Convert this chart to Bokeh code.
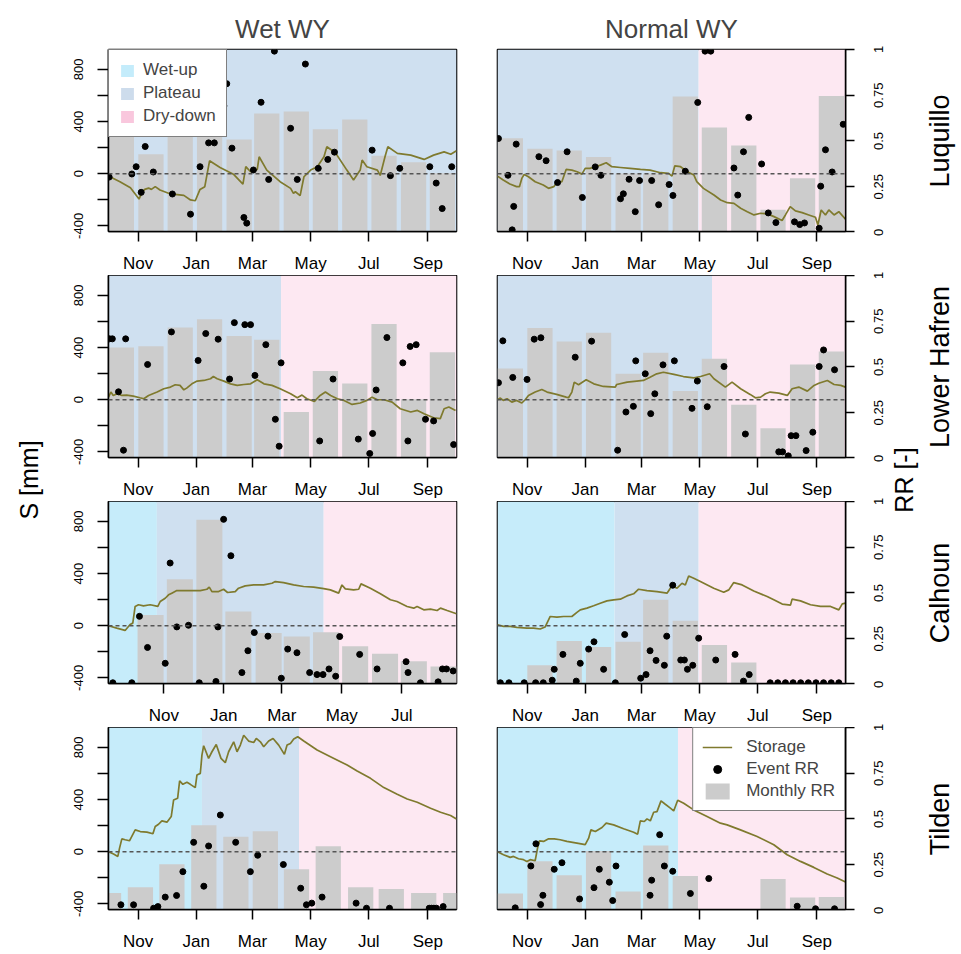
import math
from bokeh.plotting import figure
from bokeh.models import (Range1d, LinearAxis, FixedTicker, Span,
                          Legend, LegendItem, Title)
from bokeh.layouts import row, column
from bokeh.embed import file_html
from bokeh.resources import INLINE
from bokeh.core.properties import value

# ------------------------------------------------------------------ data
MONTH_TICKS = [31, 92, 151, 212, 273, 335]          # day of water year (Oct 1 = 0)
MONTH_LABELS = ["Nov", "Jan", "Mar", "May", "Jul", "Sep"]
S_TICKS = [-400, -200, 0, 200, 400, 600, 800]
S_LABELS = ["-400", "", "0", "", "400", "", "800"]
RR_TICKS = [0, 0.25, 0.5, 0.75, 1]
RR_LABELS = ["0", "0.25", "0.5", "0.75", "1"]
S_LIMITS = (-443, 953)
RR_LIMITS = (0, 1)
WY_LIMITS = (0, 365)
CAL_WET_LIMITS = (-25.3, 328.7)

STD_BAR_X = [13.5, 44.5, 75.2, 106, 137, 166, 197, 227.5, 258.3, 289, 320, 350.2]

# Luquillo - wet WY
LUQ_WET_S_DAY = [0, 12, 23, 32, 35, 38, 42, 45, 49, 54, 65, 79, 86, 91, 96, 101, 106, 117, 131, 141,
                 144, 149, 156, 158, 166, 180, 191, 194, 196, 201, 205, 212, 219, 226, 229, 238, 250, 257, 264, 266,
                 271, 282, 285, 290, 293, 303, 317, 331, 341, 352, 359, 365]
LUQ_WET_S_MM = [-18, -61, -107, -194, -145, -120, -110, -120, -99, -125, -155, -166, -201, -207, -120, -99, 99, 48, -3, -79,
                54, 15, 33, 130, 28, -61, -112, -150, -138, -168, -23, 28, 54, 130, 207, 161, 28, -48, 28, 105,
                54, 28, -13, 130, 207, 156, 143, 110, 143, 168, 150, 176]
LUQ_WET_EV_DAY = [0.7, 24.5, 29, 34.3, 38.5, 47, 67, 86, 96, 105, 111, 121, 124, 129.5, 142, 145, 152, 160, 168, 174,
                  191, 198, 206.5, 220, 230, 237, 276.5, 295.7, 305.5, 337, 343.7, 350, 360]
LUQ_WET_EV_RR = [0.299, 0.316, 0.356, 0.215, 0.467, 0.327, 0.206, 0.095, 0.356, 0.487, 0.487, 0.69, 0.812, 0.458, 0.077,
                 0.046, 0.338, 0.71, 0.286, 0.991, 0.567, 0.286, 0.92, 0.347, 0.396, 0.436, 0.447, 0.307, 0.347, 0.356,
                 0.266, 0.126, 0.356]
LUQ_WET_BAR_RR = [0.56, 0.425, 0.53, 0.52, 0.505, 0.648, 0.66, 0.562, 0.615, 0.416, 0.38, 0.32]
LUQ_WET_PH_START = [0]
LUQ_WET_PH_END = [365]
LUQ_WET_PH_KIND = ["Plateau"]

# Luquillo - normal WY
LUQ_NOR_S_DAY = [0, 6, 13, 20, 23, 25.5, 28, 32.5, 39.5, 48, 53.5, 59, 62, 67.5, 72, 78, 83.5, 88.5, 92, 97,
                 102.5, 108, 114, 120, 129, 139, 150, 160, 171, 179.5, 183, 186, 192, 199, 206, 209, 216, 227, 234, 241,
                 248, 255, 262, 269, 276, 283, 290, 298.5, 302, 307, 312.5, 319.5, 326.5, 333.5, 336, 339.5, 344, 347.5,
                 353, 358, 365]
LUQ_NOR_S_MM = [-18, -48, -79, -99, -99, -36, -5, -23, -61, -87, -112, -99, -69, -61, 33, 28, 15, -3, 41, 41,
                54, 66, 84, 54, 48, 41, 33, 28, 8, 3, -18, 61, 54, 15, -10, -61, -112, -163, -201, -222,
                -227, -265, -291, -316, -303, -308, -329, -359, -316, -252, -285, -298, -316, -334, -393, -278, -316, -278,
                -316, -291, -349]
LUQ_NOR_EV_DAY = [1, 11, 15.4, 17, 19.6, 43.4, 51, 63, 73, 89, 102.5, 108.5, 129, 132, 138, 144.5, 149, 161.7, 169, 180,
                  184, 197, 210, 217.7, 223.7, 248, 252, 258, 263.5, 277, 284, 292, 311.5, 317, 322, 337.4, 339, 344,
                  351, 362.6]
LUQ_NOR_EV_RR = [0.511, 0.309, 0.009, 0.138, 0.48, 0.411, 0.389, 0.269, 0.438, 0.187, 0.355, 0.309, 0.18, 0.207, 0.287,
                 0.109, 0.28, 0.28, 0.147, 0.258, 0.198, 0.331, 0.709, 0.991, 0.991, 0.349, 0.2, 0.438, 0.627, 0.371,
                 0.102, 0.049, 0.053, 0.038, 0.047, 0.018, 0.249, 0.449, 0.327, 0.589]
LUQ_NOR_BAR_RR = [0.513, 0.455, 0.445, 0.409, 0.318, 0.318, 0.742, 0.571, 0.473, 0.12, 0.293, 0.745]
LUQ_NOR_PH_START = [0, 211]
LUQ_NOR_PH_END = [211, 365]
LUQ_NOR_PH_KIND = ["Plateau", "Dry-down"]

# Lower Hafren - wet WY
LH_WET_S_DAY = [0, 2.5, 5, 9, 14, 19, 26, 33, 37, 42, 51, 58, 65, 70, 75, 79, 82, 87.5, 93, 100,
                107, 110, 114, 121, 128, 135, 142, 149, 156, 163, 171.5, 180, 191, 198, 203, 208, 216, 222, 227.5, 233,
                240, 247, 255.5, 264, 271, 276.5, 282, 289, 297.5, 306, 317, 324, 331, 341, 348, 352, 357, 364]
LH_WET_S_MM = [20, 59, 33, 46, 33, 36, 28, 15, 8, 33, 59, 84, 97, 115, 110, 76, 89, 122, 143, 148,
               161, 178, 161, 143, 122, 110, 117, 122, 153, 122, 110, 84, 46, 15, 36, 8, -13, 33, 59, 33,
               8, -5, -36, -25, -5, 20, 0, 0, -18, -69, -94, -82, -107, -138, -145, -69, -56, -82]
LH_WET_EV_DAY = [1, 4, 10.5, 15.7, 18, 41, 66, 94, 102, 115, 127, 132, 143, 149, 153.6, 165, 175, 179, 181, 221.5,
                 235.5, 262, 274, 277, 280.7, 292, 308.7, 314, 316.4, 322.7, 332.5, 341, 362]
LH_WET_EV_RR = [0.652, 0.652, 0.361, 0.04, 0.652, 0.511, 0.69, 0.533, 0.681, 0.65, 0.431, 0.741, 0.73, 0.73, 0.451,
                0.62, 0.21, 0.062, 0.52, 0.091, 0.431, 0.101, 0.022, 0.132, 0.371, 0.659, 0.52, 0.091, 0.61, 0.62,
                0.21, 0.201, 0.071]
LH_WET_BAR_RR = [0.605, 0.611, 0.714, 0.759, 0.668, 0.647, 0.25, 0.475, 0.406, 0.734, 0.32, 0.578]
LH_WET_PH_START = [0, 181]
LH_WET_PH_END = [181, 365]
LH_WET_PH_KIND = ["Plateau", "Dry-down"]

# Lower Hafren - normal WY
LH_NOR_S_DAY = [0, 3, 6, 10, 15, 20, 25.5, 29, 32.5, 39.5, 46.5, 52, 62, 72, 74.5, 78, 80.5, 85, 93, 101,
                111, 123.5, 125, 136, 146, 153, 160, 167, 174, 185, 195, 206, 213, 222.5, 227, 239, 246, 255, 265, 270.5,
                276, 281, 286, 295, 304, 309, 316, 325, 332, 337, 346, 353, 360, 365]
LH_NOR_S_MM = [0, 13, -5, 8, -18, -5, -25, 0, 33, 59, 79, 59, 41, 20, 15, 59, 135, 115, 153, 122,
               102, 97, 117, 135, 143, 148, 173, 199, 211, 194, 178, 168, 178, 199, 161, 97, 135, 84, 41, 15,
               20, 46, 59, 51, 33, 84, 97, 66, 110, 127, 148, 117, 110, 97]
LH_NOR_EV_DAY = [1, 5.6, 16, 31, 38.5, 45.5, 81.5, 98.7, 126, 134.7, 142.5, 145, 155, 160.7, 165, 173.6, 185.5, 204,
                 209.6, 220, 237.6, 260, 295, 299, 305, 308, 313, 323.7, 330.7, 337.4, 342, 353.5]
LH_NOR_EV_RR = [0.411, 0.641, 0.44, 0.429, 0.65, 0.658, 0.551, 0.639, 0.04, 0.25, 0.281, 0.531, 0.46, 0.241, 0.35,
                0.509, 0.531, 0.27, 0.42, 0.279, 0.5, 0.129, 0.031, 0.031, 0.009, 0.12, 0.12, 0.038, 0.139, 0.5,
                0.591, 0.482]
LH_NOR_BAR_RR = [0.489, 0.712, 0.638, 0.685, 0.46, 0.576, 0.366, 0.543, 0.29, 0.161, 0.511, 0.582]
LH_NOR_PH_START = [0, 225]
LH_NOR_PH_END = [225, 365]
LH_NOR_PH_KIND = ["Plateau", "Dry-down"]

# Calhoun - wet WY
CAL_WET_S_DAY = [-25.3, -16.9, -8.4, -3.3, -0.6, 1.8, 5.2, 10.3, 17.1, 24.9, 27.3, 32.4, 35.8, 39.1, 44.2, 51, 57.8,
                 68, 74.8, 77.2, 79.9, 86.7, 91.8, 95.8, 103.6, 107, 113.8, 122.3, 132.5, 141, 144.4, 152.8, 163,
                 173.2, 183.4, 193.6, 200.4, 208.8, 212.2, 215.6, 224.1, 229.2, 231.6, 241.1, 251.3, 261.5, 268.2,
                 278.4, 285.2, 288.6, 295.4, 302.2, 309, 312.4, 319.2, 328.7]
CAL_WET_S_MM = [0, -18, -36, 10, 20, 148, 161, 153, 161, 148, 186, 211, 237, 250, 270, 270, 270, 270, 280, 296,
                262, 262, 280, 255, 262, 288, 306, 313, 313, 326, 339, 331, 313, 301, 296, 285, 275, 250, 313, 283,
                275, 280, 321, 288, 245, 199, 186, 148, 135, 148, 122, 127, 117, 135, 117, 92]
CAL_WET_EV_DAY = [-20.9, -1.6, 6.2, 14.4, 32.4, 37.4, 44.2, 56.1, 67, 84, 86, 91.8, 99.2, 110.4, 116.5, 123, 136.9,
                  150.5, 157, 166.4, 179.3, 186.8, 192.9, 199, 205.8, 209.9, 230.2, 247.9, 277.4, 279.4, 292, 310,
                  314.4, 318.5, 325.3]
CAL_WET_EV_RR = [0.004, 0.004, 0.369, 0.198, 0.111, 0.662, 0.311, 0.32, 0.004, 0.011, 0.311, 0.902, 0.702, 0.06,
                 0.18, 0.28, 0.26, 0.029, 0.189, 0.169, 0.06, 0.049, 0.049, 0.08, 0.04, 0.258, 0.16, 0.08, 0.12,
                 0.06, 0.004, 0.009, 0.08, 0.08, 0.069]
CAL_WET_BAR_X = [17.5, 47.3, 77.3, 106.8, 137.6, 166.2, 196, 225.6, 256, 285.3, 315.5]
CAL_WET_BAR_RR = [0.376, 0.573, 0.9, 0.396, 0.278, 0.258, 0.282, 0.205, 0.164, 0.122, 0.093]
CAL_WET_PH_START = [-25.3, 23.9, 193.6]
CAL_WET_PH_END = [23.9, 193.6, 328.7]
CAL_WET_PH_KIND = ["Wet-up", "Plateau", "Dry-down"]

# Calhoun - normal WY
CAL_NOR_S_DAY = [0, 6.3, 13.3, 20.3, 30.8, 37.8, 44.8, 49.9, 55.3, 62.3, 69.3, 78, 83.3, 86.8, 93.8, 100.8, 107.8,
                 114.8, 121.8, 128.8, 135.8, 142.8, 148, 156.8, 167.3, 177.8, 183, 188.3, 193.5, 197, 200.5, 205.8,
                 212.8, 226.8, 237.3, 242.6, 247.8, 256.6, 268.8, 282.8, 289.8, 298.6, 307.3, 309, 317.8, 328.3,
                 338.8, 349.3, 358, 361.6, 365]
CAL_NOR_S_MM = [8, -5, -5, -13, -18, -18, -25, -10, 71, 66, 71, 71, 102, 122, 135, 153, 173, 191, 199, 204,
                229, 245, 280, 270, 262, 250, 306, 288, 326, 313, 382, 364, 339, 288, 257, 275, 331, 313, 267, 224,
                199, 166, 158, 204, 191, 161, 148, 148, 122, 168, 173]
CAL_NOR_EV_DAY = [3, 12, 28, 40, 48, 57.4, 59.5, 68.6, 82.6, 86.8, 95.6, 101.2, 111.3, 123.6, 133.4, 150.2, 155.8,
                  160, 166.3, 175, 177.5, 183.8, 192.2, 196, 199.2, 204.8, 211, 228.9, 249.2, 258, 264, 286, 294,
                  302, 310, 318, 326, 334, 342, 350, 358]
CAL_NOR_EV_RR = [0.004, 0.004, 0.004, 0.004, 0.004, 0.018, 0.078, 0.16, 0.013, 0.111, 0.189, 0.229, 0.078, 0.004,
                 0.269, 0.029, 0.049, 0.18, 0.127, 0.1, 0.26, 0.54, 0.129, 0.129, 0.078, 0.1, 0.249, 0.129, 0.16,
                 0.013, 0.049, 0.004, 0.004, 0.004, 0.004, 0.004, 0.004, 0.004, 0.004, 0.004, 0.004]
CAL_NOR_BAR_RR = [0, 0.1, 0.233, 0.2, 0.229, 0.46, 0.345, 0.211, 0.116, 0, 0, 0]
CAL_NOR_PH_START = [0, 122.8, 211]
CAL_NOR_PH_END = [122.8, 211, 365]
CAL_NOR_PH_KIND = ["Wet-up", "Plateau", "Dry-down"]

# Tilden - wet WY
TIL_WET_S_DAY = [0, 5.3, 9.8, 11.6, 14, 17.5, 22, 28, 33.3, 40.3, 46.6, 49, 52.5, 56, 61.3, 65.8, 68.3, 72.5, 74.6, 78,
                 82.3, 85.8, 91, 92.8, 96.3, 98, 99.8, 105, 108.5, 113, 118, 122.5, 126, 131.3, 134.8, 138.3, 141.8,
                 147, 152.3, 155, 159.3, 162.8, 168, 172.6, 178.5, 184.5, 187.3, 190.8, 194.3, 198.5, 204.8, 218.8,
                 232.8, 250.3, 260.8, 274.8, 288.8, 302.8, 313.3, 323.8, 337.8, 348.3, 358.8, 365]
TIL_WET_S_MM = [0, -18, -36, 28, 99, 92, 84, 168, 155, 150, 138, 194, 211, 237, 227, 270, 397, 410, 543, 517,
                533, 517, 492, 589, 601, 741, 813, 716, 767, 823, 716, 683, 767, 843, 767, 818, 894, 849, 838, 869,
                843, 805, 849, 869, 818, 747, 818, 831, 864, 882, 849, 780, 729, 665, 619, 563, 492, 441, 405, 380,
                334, 303, 278, 252]
TIL_WET_EV_DAY = [13, 26.3, 47.3, 51.8, 59.5, 71.4, 78, 89.3, 100, 105, 117.3, 133.4, 148.8, 156.5, 183.4, 201.6,
                  207.6, 213.2, 224, 259.7, 270.6, 294.7, 336.4, 338.8, 341.3, 344, 351]
TIL_WET_EV_RR = [0.026, 0.026, 0.007, 0.016, 0.068, 0.077, 0.208, 0.369, 0.128, 0.349, 0.519, 0.369, 0.208, 0.298,
                 0.247, 0.117, 0.026, 0.035, 0.068, 0.035, 0.007, 0.007, 0.007, 0.007, 0.007, 0.007, 0.016]
TIL_WET_BAR_X = [0, 33.5, 66.5, 100, 133.6, 164.5, 197.2, 230.5, 264.5, 296.6, 330.6, 364.2]
TIL_WET_BAR_RR = [0.09, 0.122, 0.249, 0.463, 0.4, 0.43, 0.221, 0.347, 0.122, 0.113, 0.09, 0.09]
TIL_WET_PH_START = [0, 98, 199.8]
TIL_WET_PH_END = [98, 199.8, 365]
TIL_WET_PH_KIND = ["Wet-up", "Plateau", "Dry-down"]

# Tilden - normal WY
TIL_NOR_S_DAY = [0, 6.3, 13.3, 16.8, 22, 27.3, 30.8, 34.3, 39.5, 42, 44.1, 48.3, 53.6, 59.5, 65.8, 72.8, 83.3, 92,
                 95.6, 98, 102.6, 109.6, 114, 121.8, 132.3, 142.8, 147, 149.8, 154, 156.8, 160.3, 163.8, 167.3, 171.5,
                 176, 181.3, 184.8, 189, 195.3, 205.8, 219.8, 233.8, 240.8, 254.8, 272.3, 289.8, 303.8, 317.8, 331.8,
                 345.8, 356.3, 365]
TIL_NOR_S_MM = [0, -23, -43, -36, -54, -61, -74, -61, -69, 28, 84, 79, 99, 99, 92, 79, 66, 54, 104, 168,
                155, 186, 219, 206, 176, 150, 135, 237, 232, 252, 237, 303, 308, 390, 364, 334, 313, 395, 372, 321,
                270, 219, 206, 168, 117, 54, -23, -74, -120, -171, -201, -232]
TIL_NOR_EV_DAY = [18.6, 35, 40.3, 45.2, 47.6, 59.5, 67.6, 86.1, 101.2, 106.8, 117.3, 120.8, 124.3, 160, 161.7, 170.1,
                  175, 183.8, 202.3, 221.6, 314.3, 333.6, 353.5]
TIL_NOR_EV_RR = [0.009, 0.239, 0.361, 0.027, 0.078, 0.221, 0.257, 0.058, 0.12, 0.221, 0.15, 0.049, 0.239, 0.078,
                 0.161, 0.411, 0.239, 0.21, 0.088, 0.17, 0.018, 0.004, 0.004]
TIL_NOR_BAR_RR = [0.088, 0.265, 0.188, 0.321, 0.099, 0.352, 0.184, 0, 0, 0.168, 0.066, 0.069]
TIL_NOR_PH_START = [0, 189.3]
TIL_NOR_PH_END = [189.3, 365]
TIL_NOR_PH_KIND = ["Wet-up", "Dry-down"]

SITES = ["Luquillo", "Lower Hafren", "Calhoun", "Tilden"]
YEAR_TYPES = ["Wet WY", "Normal WY"]

# ------------------------------------------------------------------ style
FONT = "Liberation Sans"
PHASE_KINDS = ["Wet-up", "Plateau", "Dry-down"]
PHASE_BG = {"Wet-up": "#c6ecfa", "Plateau": "#cfe0f0", "Dry-down": "#fde8f2"}
PHASE_SWATCH = {"Wet-up": "#c4ecfb", "Plateau": "#cddcec", "Dry-down": "#f9c7dd"}
OLIVE = "#7f7a2e"
BAR_GREY = "#cccccc"
BAR_WIDTH = 26.5

FRAME_W, FRAME_H = 348, 183
TOP_B, GAP_B, LAST_B = 49, 43, 43
L_BL, L_BR = 50, 20
R_BL, R_BR = 21, 12
LEFT_STRIP_W, RIGHT_STRIP_W = 58, 102
TOTAL_H = TOP_B + 4 * FRAME_H + 3 * GAP_B + LAST_B

PANELS = [
    [dict(xr=WY_LIMITS, s_day=LUQ_WET_S_DAY, s_mm=LUQ_WET_S_MM, ev_day=LUQ_WET_EV_DAY, ev_rr=LUQ_WET_EV_RR,
          bar_x=STD_BAR_X, bar_rr=LUQ_WET_BAR_RR, ph=(LUQ_WET_PH_START, LUQ_WET_PH_END, LUQ_WET_PH_KIND)),
     dict(xr=WY_LIMITS, s_day=LUQ_NOR_S_DAY, s_mm=LUQ_NOR_S_MM, ev_day=LUQ_NOR_EV_DAY, ev_rr=LUQ_NOR_EV_RR,
          bar_x=STD_BAR_X, bar_rr=LUQ_NOR_BAR_RR, ph=(LUQ_NOR_PH_START, LUQ_NOR_PH_END, LUQ_NOR_PH_KIND))],
    [dict(xr=WY_LIMITS, s_day=LH_WET_S_DAY, s_mm=LH_WET_S_MM, ev_day=LH_WET_EV_DAY, ev_rr=LH_WET_EV_RR,
          bar_x=STD_BAR_X, bar_rr=LH_WET_BAR_RR, ph=(LH_WET_PH_START, LH_WET_PH_END, LH_WET_PH_KIND)),
     dict(xr=WY_LIMITS, s_day=LH_NOR_S_DAY, s_mm=LH_NOR_S_MM, ev_day=LH_NOR_EV_DAY, ev_rr=LH_NOR_EV_RR,
          bar_x=STD_BAR_X, bar_rr=LH_NOR_BAR_RR, ph=(LH_NOR_PH_START, LH_NOR_PH_END, LH_NOR_PH_KIND))],
    [dict(xr=CAL_WET_LIMITS, s_day=CAL_WET_S_DAY, s_mm=CAL_WET_S_MM, ev_day=CAL_WET_EV_DAY, ev_rr=CAL_WET_EV_RR,
          bar_x=CAL_WET_BAR_X, bar_rr=CAL_WET_BAR_RR, ph=(CAL_WET_PH_START, CAL_WET_PH_END, CAL_WET_PH_KIND)),
     dict(xr=WY_LIMITS, s_day=CAL_NOR_S_DAY, s_mm=CAL_NOR_S_MM, ev_day=CAL_NOR_EV_DAY, ev_rr=CAL_NOR_EV_RR,
          bar_x=STD_BAR_X, bar_rr=CAL_NOR_BAR_RR, ph=(CAL_NOR_PH_START, CAL_NOR_PH_END, CAL_NOR_PH_KIND))],
    [dict(xr=WY_LIMITS, s_day=TIL_WET_S_DAY, s_mm=TIL_WET_S_MM, ev_day=TIL_WET_EV_DAY, ev_rr=TIL_WET_EV_RR,
          bar_x=TIL_WET_BAR_X, bar_rr=TIL_WET_BAR_RR, ph=(TIL_WET_PH_START, TIL_WET_PH_END, TIL_WET_PH_KIND)),
     dict(xr=WY_LIMITS, s_day=TIL_NOR_S_DAY, s_mm=TIL_NOR_S_MM, ev_day=TIL_NOR_EV_DAY, ev_rr=TIL_NOR_EV_RR,
          bar_x=STD_BAR_X, bar_rr=TIL_NOR_BAR_RR, ph=(TIL_NOR_PH_START, TIL_NOR_PH_END, TIL_NOR_PH_KIND))],
]


def phase_rows(kind, specs):
    left, right = [], []
    for spec in specs:
        for s, e, k in zip(*spec["ph"]):
            if k == kind:
                left.append(s)
                right.append(e)
    return left, right


def style_axis(ax, size):
    ax.axis_line_color = "black"
    ax.axis_line_width = 1.5
    ax.major_tick_line_color = "black"
    ax.major_tick_line_width = 1.5
    ax.major_tick_out = 10
    ax.major_tick_in = 0
    ax.minor_tick_out = 0
    ax.minor_tick_in = 0
    ax.major_label_text_font = FONT
    ax.major_label_text_font_size = size
    ax.major_label_text_color = "black"


def make_panel(spec, ci, ri):
    top = TOP_B if ri == 0 else 0
    bottom = LAST_B if ri == 3 else GAP_B
    bl, br = (L_BL, L_BR) if ci == 0 else (R_BL, R_BR)
    p = figure(width=bl + FRAME_W + br, height=top + FRAME_H + bottom,
               x_range=Range1d(*spec["xr"]), y_range=Range1d(*S_LIMITS),
               x_axis_location=None, y_axis_location=None,
               toolbar_location=None, output_backend="svg",
               min_border_left=bl, min_border_right=br,
               min_border_top=top, min_border_bottom=bottom)
    if ri == 0:
        p.title = Title(text=YEAR_TYPES[ci], align="center", text_font=FONT,
                        text_font_size="26px", text_font_style="normal", standoff=12)
    p.extra_y_ranges = {"rr": Range1d(*RR_LIMITS)}
    p.xgrid.visible = False
    p.ygrid.visible = False
    p.outline_line_color = "black"
    p.outline_line_width = 1.6
    p.background_fill_color = "white"
    p.border_fill_color = "white"

    # phase backgrounds (full height of the RR axis)
    for k in PHASE_KINDS:
        left, right = phase_rows(k, [spec])
        if left:
            p.quad(left=left, right=right, bottom=RR_LIMITS[0], top=RR_LIMITS[1], y_range_name="rr",
                   fill_color=PHASE_BG[k], line_color=None)

    bars = p.vbar(x=spec["bar_x"], width=BAR_WIDTH, top=spec["bar_rr"], bottom=0,
                  y_range_name="rr", fill_color=BAR_GREY, line_color=None)
    p.add_layout(Span(location=0, dimension="width", line_color="#555555",
                      line_dash="4 3", line_width=1.4))
    line = p.line(spec["s_day"], spec["s_mm"], line_color=OLIVE, line_width=1.7)
    pts = p.scatter(spec["ev_day"], spec["ev_rr"], y_range_name="rr", size=6,
                    fill_color="black", line_color="black")

    xa = LinearAxis(ticker=FixedTicker(ticks=MONTH_TICKS),
                    major_label_overrides=dict(zip(MONTH_TICKS, MONTH_LABELS)))
    style_axis(xa, "17px")
    xa.major_label_standoff = 12
    p.add_layout(xa, "below")

    if ci == 0:
        ya = LinearAxis(ticker=FixedTicker(ticks=S_TICKS),
                        major_label_overrides=dict(zip(S_TICKS, S_LABELS)),
                        major_label_orientation="parallel")
        style_axis(ya, "13px")
        ya.major_tick_out = 11
        ya.major_label_standoff = 14
        p.add_layout(ya, "left")
    else:
        # RR axis: ticks here, its upward-reading labels are set in the right-hand strip
        ra = LinearAxis(y_range_name="rr", ticker=FixedTicker(ticks=RR_TICKS),
                        major_label_overrides={t: "" for t in RR_TICKS})
        style_axis(ra, "13px")
        ra.major_tick_out = 9
        ra.major_label_standoff = 0
        ra.major_label_text_color = None
        p.add_layout(ra, "right")

    if ri == 0 and ci == 0:
        # legend keys: hidden renderers holding every phase of each kind in the figure
        all_specs = [s for r in PANELS for s in r]
        keys = {}
        for k in PHASE_KINDS:
            left, right = phase_rows(k, all_specs)
            keys[k] = p.quad(left=left, right=right, bottom=RR_LIMITS[0], top=RR_LIMITS[1],
                             y_range_name="rr", fill_color=PHASE_SWATCH[k], line_color=None,
                             visible=False)
        leg = Legend(items=[LegendItem(label=k, renderers=[keys[k]]) for k in PHASE_KINDS],
                     location="top_left", margin=0, padding=10, spacing=3,
                     glyph_width=16, glyph_height=15, label_height=20, label_standoff=8,
                     label_text_font=FONT, label_text_font_size="17px",
                     border_line_color="black", border_line_width=1.5,
                     background_fill_color="white", background_fill_alpha=1.0)
        p.add_layout(leg)
    if ri == 3 and ci == 1:
        leg = Legend(items=[LegendItem(label="Storage", renderers=[line]),
                            LegendItem(label="Event RR", renderers=[pts]),
                            LegendItem(label="Monthly RR", renderers=[bars])],
                     location="top_right", margin=0, padding=9, spacing=2,
                     glyph_width=30, glyph_height=20, label_height=20, label_standoff=14,
                     label_text_font=FONT, label_text_font_size="17px",
                     border_line_color="black", border_line_width=1.5,
                     background_fill_color="white", background_fill_alpha=1.0)
        p.add_layout(leg)
    return p


def make_strip(width):
    s = figure(width=width, height=TOTAL_H, x_range=Range1d(0, width), y_range=Range1d(0, TOTAL_H),
               x_axis_location=None, y_axis_location=None, toolbar_location=None,
               output_backend="svg", min_border=0)
    s.xgrid.visible = False
    s.ygrid.visible = False
    s.outline_line_color = None
    s.background_fill_color = "white"
    s.border_fill_color = "white"
    return s


rows = []
for ri in range(4):
    rows.append(row(*[make_panel(PANELS[ri][ci], ci, ri) for ci in range(2)]))
grid = column(*rows)

# overall axis titles and site names
mid_gap_y = TOTAL_H - (TOP_B + 2 * FRAME_H + GAP_B + GAP_B / 2)
left_strip = make_strip(LEFT_STRIP_W)
left_strip.text(x=[28], y=[mid_gap_y], text=["S [mm]"], angle=math.pi / 2,
                text_align="center", text_baseline="middle",
                text_font=value(FONT), text_font_size="25px", text_color="black")

right_strip = make_strip(RIGHT_STRIP_W)
# one RR scale per panel row, aligned with that row's plot frame
rr_ranges = {}
for i in range(4):
    frame_bottom = TOP_B + i * (FRAME_H + GAP_B) + FRAME_H      # px from the top
    rr_ranges["rr%d" % i] = Range1d((frame_bottom - TOTAL_H) / FRAME_H, frame_bottom / FRAME_H)
right_strip.extra_y_ranges = rr_ranges
for i in range(4):
    right_strip.text(x=[21] * len(RR_TICKS), y=RR_TICKS, text=RR_LABELS, y_range_name="rr%d" % i,
                     angle=math.pi / 2, text_align="center", text_baseline="middle",
                     text_font=value(FONT), text_font_size="13px", text_color="black")
right_strip.text(x=[46], y=[mid_gap_y], text=["RR [-]"], angle=math.pi / 2,
                 text_align="center", text_baseline="middle",
                 text_font=value(FONT), text_font_size="25px", text_color="black")
site_y = [TOTAL_H - (TOP_B + i * (FRAME_H + GAP_B) + FRAME_H / 2) for i in range(4)]
right_strip.text(x=[82] * 4, y=site_y, text=SITES, angle=math.pi / 2,
                 text_align="center", text_baseline="middle",
                 text_font=value(FONT), text_font_size="27px", text_color="black")

layout = row(left_strip, grid, right_strip)

with open("out.html", "w") as f:
    f.write(file_html(layout, INLINE))
